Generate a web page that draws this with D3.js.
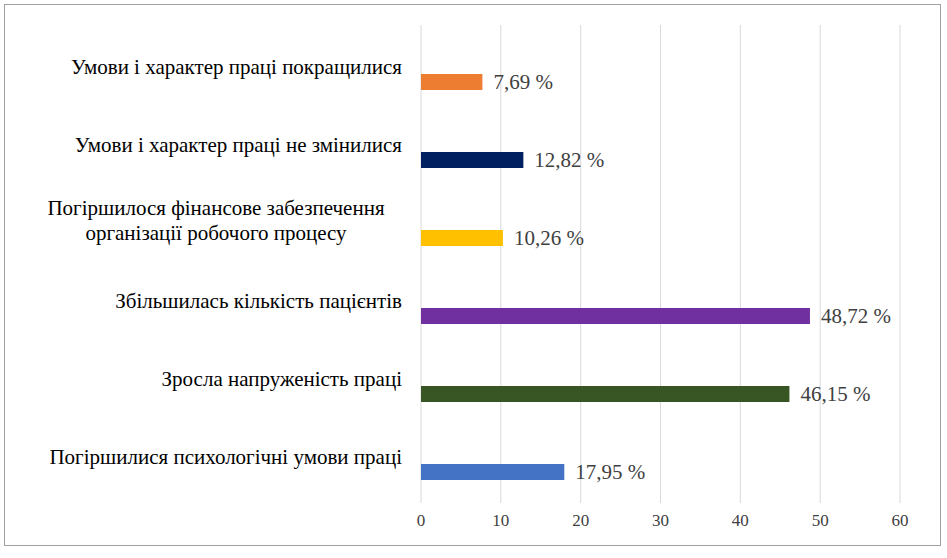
<!DOCTYPE html>
<html><head><meta charset="utf-8">
<script src="https://cdn.jsdelivr.net/npm/d3@7"></script>
<style>body{margin:0;background:#fff} text{font-family:"Liberation Serif","Times New Roman",serif}</style>
</head><body>
<svg id="chart" width="947" height="558"></svg>
<script>
const categories = [
  ['Умови і характер праці покращилися'],
  ['Умови і характер праці не змінилися'],
  ['Погіршилося фінансове забезпечення', 'організації робочого процесу'],
  ['Збільшилась кількість пацієнтів'],
  ['Зросла напруженість праці'],
  ['Погіршилися психологічні умови праці']
];
const values = [7.69, 12.82, 10.26, 48.72, 46.15, 17.95];
const colors = ['#ED7D31', '#002060', '#FFC000', '#7030A0', '#375623', '#4472C4'];
const ticks = [0, 10, 20, 30, 40, 50, 60];

const svg = d3.select('#chart');
svg.append('rect').attr('x', 4.5).attr('y', 4.5).attr('width', 936).attr('height', 541)
  .attr('fill', 'none').attr('stroke', '#a0a0a0');

const x = d3.scaleLinear().domain([0, 60]).range([421, 900]);
const y = d3.scaleBand().domain(d3.range(categories.length)).range([43, 511]);

svg.selectAll('.grid').data(ticks).enter().append('line')
  .attr('x1', d => x(d)).attr('x2', d => x(d)).attr('y1', 25).attr('y2', 503)
  .attr('stroke', '#d9d9d9').attr('stroke-width', 1);

svg.selectAll('.tick').data(ticks).enter().append('text')
  .attr('x', d => x(d)).attr('y', 526).attr('text-anchor', 'middle')
  .attr('font-size', 17).attr('fill', '#404040').text(d => d);

const barH = 16;
svg.selectAll('.bar').data(values).enter().append('rect')
  .attr('x', x(0)).attr('y', (d, i) => y(i) + y.bandwidth() / 2 - barH / 2)
  .attr('width', d => x(d) - x(0)).attr('height', barH)
  .attr('fill', (d, i) => colors[i]);

svg.selectAll('.val').data(values).enter().append('text')
  .attr('x', d => x(d) + 11).attr('y', (d, i) => y(i) + y.bandwidth() / 2 + 7)
  .attr('font-size', 21).attr('fill', '#404040')
  .text(d => d.toFixed(2).replace('.', ',') + ' %');

categories.forEach((lines, i) => {
  const c = y(i) + y.bandwidth() / 2;
  const t = svg.append('text').attr('font-size', 21).attr('fill', '#000');
  lines.forEach((l, j) => {
    const base = lines.length === 1 ? c - 8 : c - 23 + j * 25;
    t.append('tspan').attr('x', lines.length === 1 ? 402 : 216).attr('y', base)
      .attr('text-anchor', lines.length === 1 ? 'end' : 'middle').text(l);
  });
});
</script>
</body></html>
